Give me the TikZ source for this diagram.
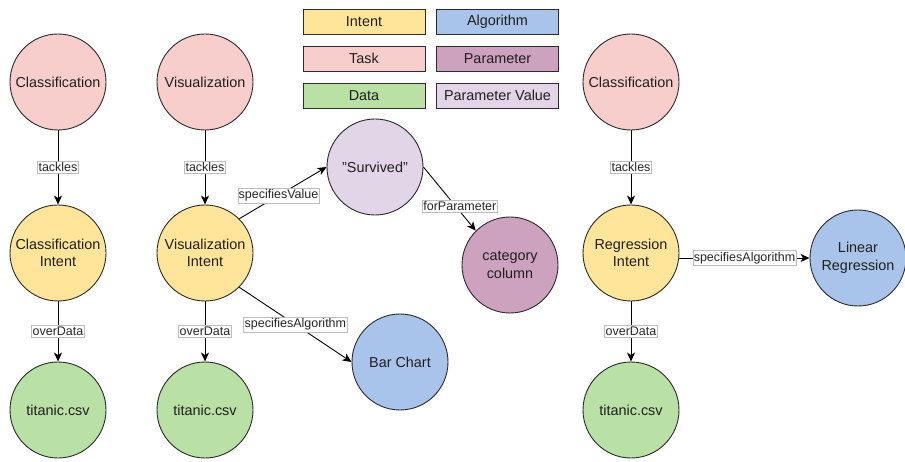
\documentclass[tikz,border=0pt]{standalone}
\usepackage{fontspec}
\setmainfont{Liberation Sans}
\usetikzlibrary{arrows.meta,calc}

\definecolor{intentfill}{HTML}{FFE599}
\definecolor{algofill}{HTML}{A9C4EB}
\definecolor{taskfill}{HTML}{F8CECC}
\definecolor{paramfill}{HTML}{CDA2BE}
\definecolor{datafill}{HTML}{B9E0A5}
\definecolor{valuefill}{HTML}{E1D5E7}
\definecolor{strokegray}{HTML}{2B2B2B}
\definecolor{labelborder}{HTML}{BDBDBD}

\tikzset{
  concept/.style={circle, draw=strokegray, line width=0.9pt, minimum size=96pt,
    inner sep=0pt, align=center, text=black!88,
    font=\fontsize{14.4}{17.5}\selectfont},
  legendbox/.style={rectangle, draw=strokegray, line width=0.9pt,
    minimum width=122pt, minimum height=25pt, inner sep=0pt, text=black!88,
    font=\fontsize{14.4}{17}\selectfont},
  rel/.style={line width=0.9pt, draw=black,
    -{Stealth[length=9pt, width=8pt, inset=2.5pt]}},
  rellabel/.style={fill=white, draw=labelborder, line width=0.4pt,
    inner xsep=1pt, inner ysep=1.5pt, text=black!85,
    font=\fontsize{12.5}{14}\selectfont}
}

\begin{document}
\begin{tikzpicture}[x=1pt, y=-1pt]
  \useasboundingbox[fill=white] (0,0) rectangle (905,462);

  % legend
  \node[legendbox, fill=intentfill] (lgintent) at (364,21.5) {Intent};
  \node[legendbox, fill=algofill]   (lgalgo)   at (497.5,21.5) {Algorithm};
  \node[legendbox, fill=taskfill]   (lgtask)   at (364,58.5) {Task};
  \node[legendbox, fill=paramfill]  (lgparam)  at (497.5,58.5) {Parameter};
  \node[legendbox, fill=datafill]   (lgdata)   at (364,95.5) {Data};
  \node[legendbox, fill=valuefill]  (lgvalue)  at (497.5,95.5) {Parameter Value};

  % classification column
  \node[concept, fill=taskfill]   (clstask)   at (58,82)  {Classification};
  \node[concept, fill=intentfill] (clsintent) at (58,253) {Classification\\Intent};
  \node[concept, fill=datafill]   (clsdata)   at (58,410) {titanic.csv};

  % visualization column
  \node[concept, fill=taskfill]   (vistask)   at (205,82)  {Visualization};
  \node[concept, fill=intentfill] (visintent) at (205,253) {Visualization\\Intent};
  \node[concept, fill=datafill]   (visdata)   at (205,410) {titanic.csv};
  \node[concept, fill=valuefill]  (survived)  at (375,167) {"Survived"};
  \node[concept, fill=paramfill]  (catcol)    at (510,265) {category\\column};
  \node[concept, fill=algofill]   (barchart)  at (400,362) {Bar Chart};

  % regression column
  \node[concept, fill=taskfill]   (regtask)   at (631,82)  {Classification};
  \node[concept, fill=intentfill] (regintent) at (631,253) {Regression\\Intent};
  \node[concept, fill=datafill]   (regdata)   at (631,410) {titanic.csv};
  \node[concept, fill=algofill]   (linreg)    at (858,258) {Linear\\Regression};

  % relations
  \draw[rel] (clstask) -- node[rellabel] {tackles} (clsintent);
  \draw[rel] (clsintent) -- node[rellabel] {overData} (clsdata);

  \draw[rel] (vistask) -- node[rellabel] {tackles} (visintent);
  \draw[rel] (visintent) -- node[rellabel] {overData} (visdata);
  \draw[rel] (visintent.45) -- node[rellabel, pos=0.45] {specifiesValue} (survived.west);
  \draw[rel] (survived.east) -- node[rellabel, pos=0.62, xshift=4pt] {forParameter} (catcol.135);
  \draw[rel] (visintent.-45) -- node[rellabel] {specifiesAlgorithm} (barchart.west);

  \draw[rel] (regtask) -- node[rellabel] {tackles} (regintent);
  \draw[rel] (regintent) -- node[rellabel] {overData} (regdata);
  \draw[rel] (regintent.east |- linreg.west) -- node[rellabel] {specifiesAlgorithm} (linreg.west);
\end{tikzpicture}
\end{document}
